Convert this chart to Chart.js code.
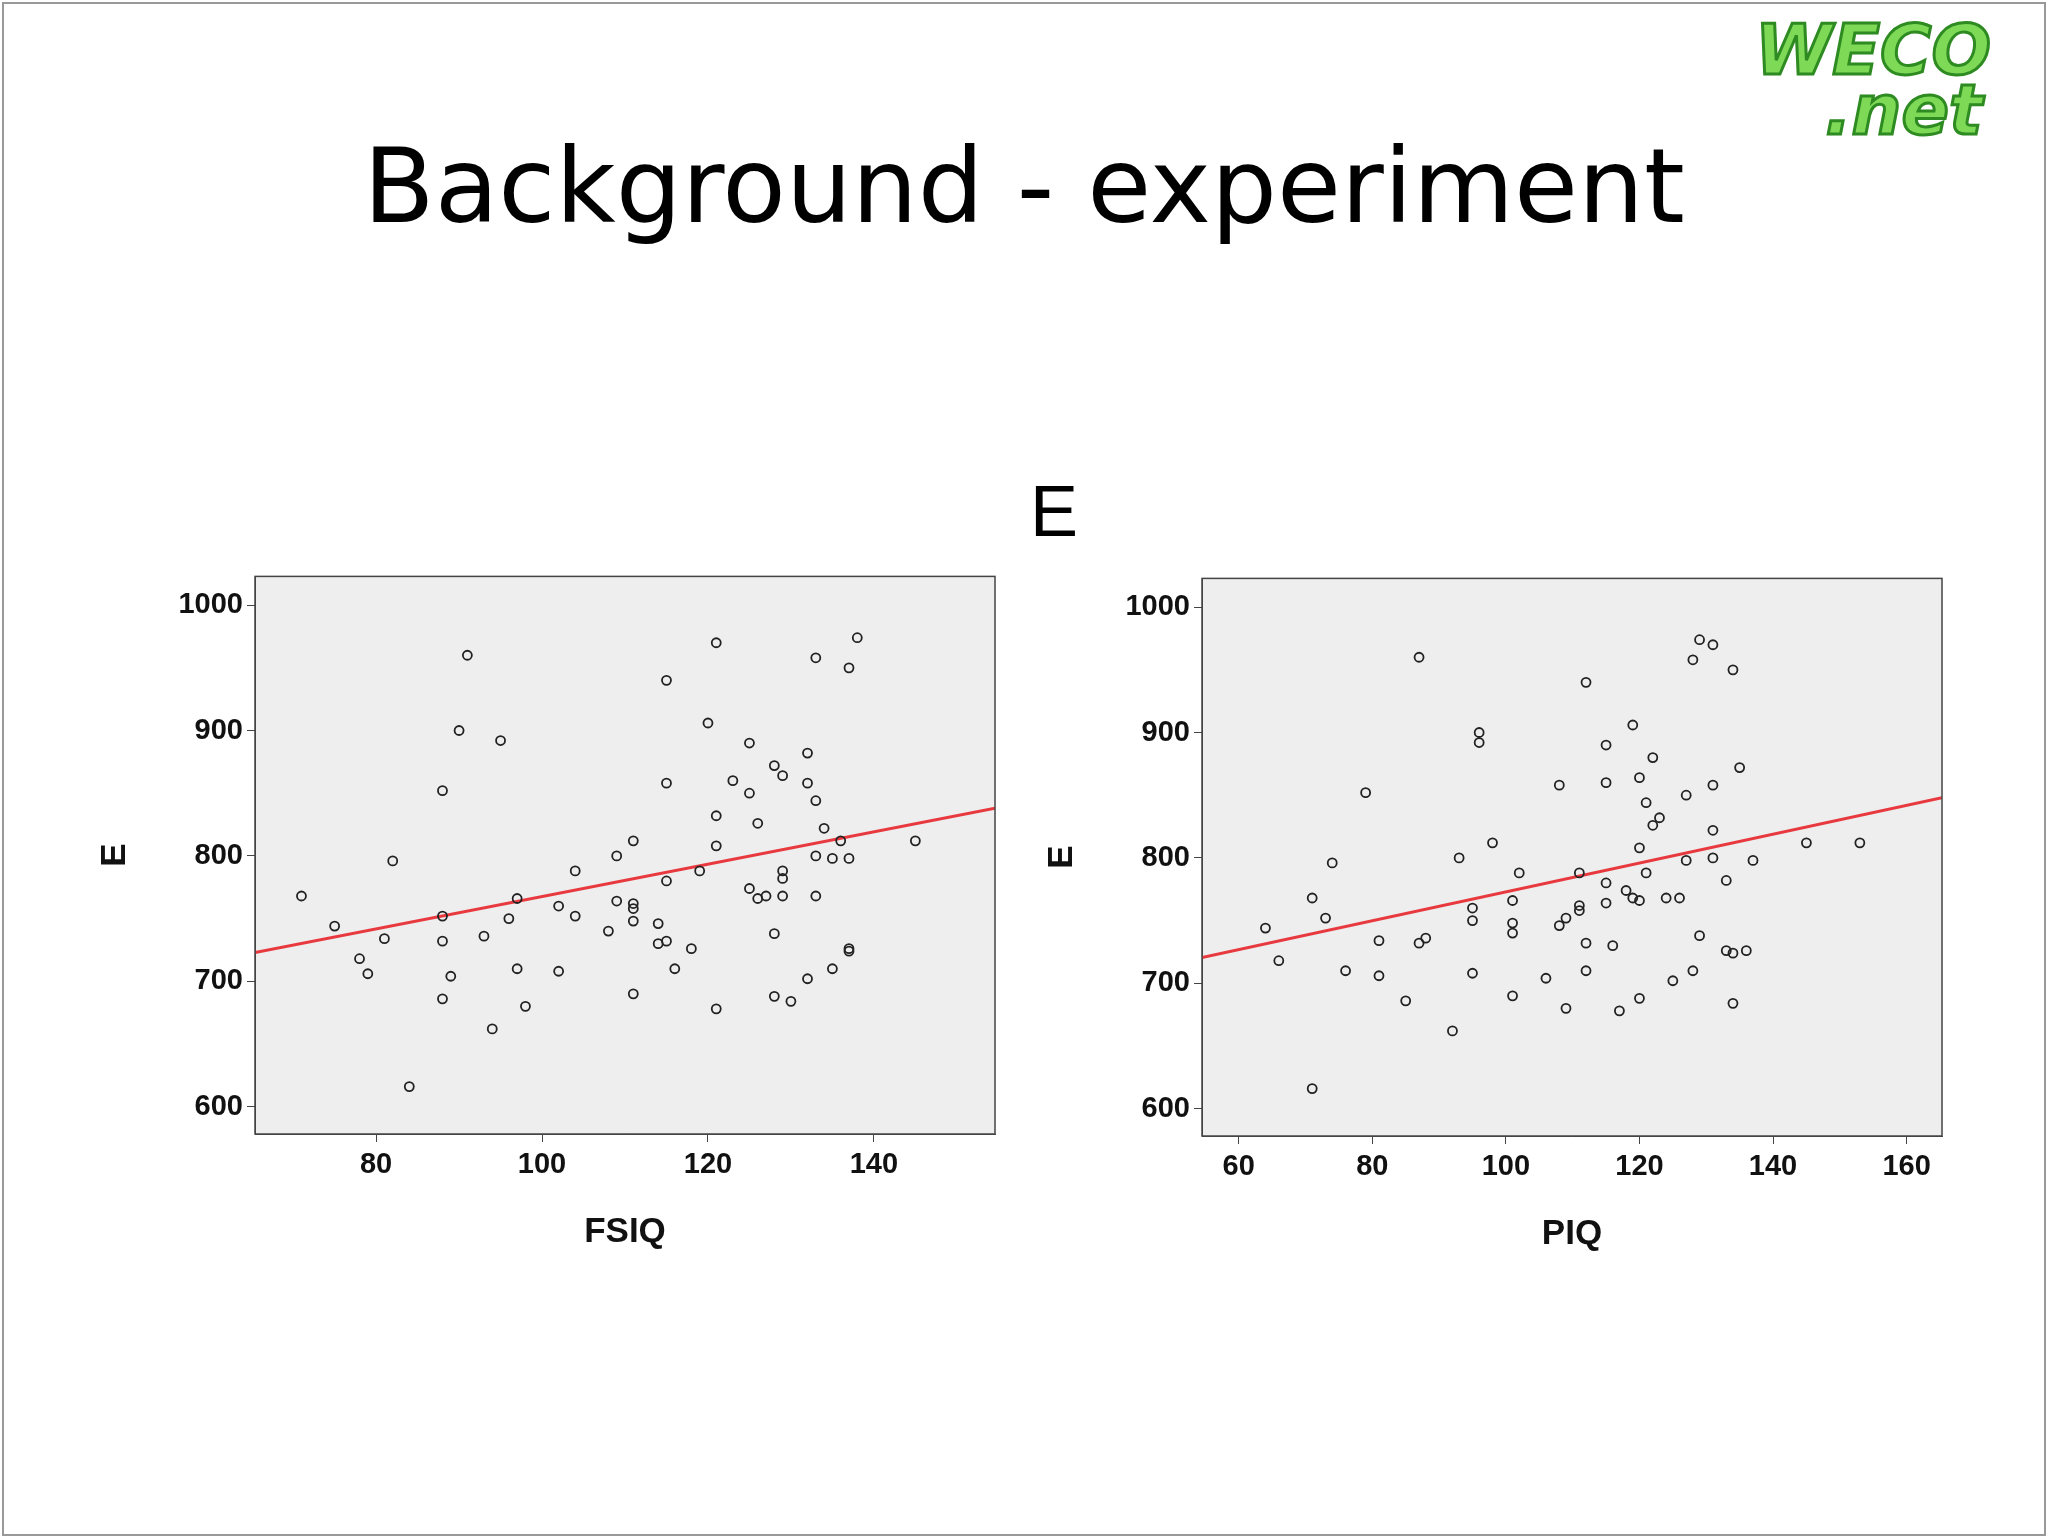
<!DOCTYPE html>
<html><head><meta charset="utf-8">
<script src="https://cdn.jsdelivr.net/npm/chart.js@4.4.0/dist/chart.umd.min.js"></script>
<style>
body{margin:0;width:2048px;height:1536px;background:#fff;position:relative;overflow:hidden;font-family:"Liberation Sans",Arial,sans-serif}
#frame{position:absolute;left:2px;top:2px;width:2040px;height:1530px;border:2px solid #999}
#title{position:absolute;left:0;width:2048px;top:125px;text-align:center;font-family:"DejaVu Sans";font-size:104px;color:#000}
#E{position:absolute;left:1030px;top:470px;font-size:72px;font-family:"Liberation Sans"}
#logo{position:absolute;left:1755px;top:20px;font-family:"DejaVu Sans";font-weight:bold;font-style:italic;color:#7ed957;-webkit-text-stroke:3px #2e8b22;font-size:70px;line-height:60px}
.c{position:absolute}
</style></head><body>
<div id="frame"></div>
<div id="logo">WECO<br><span style="margin-left:70px">.net</span></div>
<div id="title">Background - experiment</div>
<div id="E">E</div>
<div class="c" style="left:90px;top:555px;width:920px;height:710px"><canvas id="c1"></canvas></div>
<div class="c" style="left:1037px;top:557px;width:920px;height:710px"><canvas id="c2"></canvas></div>
<script>
const fsiqX=[71,75,78,79,81,82,84,88,88,88,88,89,90,91,93,94,95,96,97,97,98,102,102,104,104,108,109,109,111,111,111,111,111,114,114,115,115,115,115,116,118,119,120,121,121,121,121,123,125,125,125,126,126,127,128,128,128,129,129,129,129,130,132,132,132,133,133,133,133,134,135,135,136,137,137,137,137,138,145];
const fsiqE=[768,744,718,706,734,796,616,852,752,732,686,704,900,960,736,662,892,750,766,710,680,760,708,788,752,740,800,764,812,762,758,748,690,746,730,940,858,780,732,710,726,788,906,970,832,808,678,860,890,850,774,826,766,768,872,738,688,864,788,782,768,684,882,858,702,958,844,800,768,822,798,710,812,950,798,726,724,974,812];
const piqX=[64,66,71,71,73,74,76,79,81,81,85,87,87,88,92,93,95,95,95,96,96,98,101,101,101,101,102,106,108,108,109,109,111,111,111,112,112,112,115,115,115,115,116,117,118,119,119,120,120,120,120,121,121,122,122,123,124,125,126,127,127,128,128,129,129,131,131,131,131,133,133,134,134,134,135,136,137,145,153];
const piqE=[744,718,768,616,752,796,710,852,734,706,686,960,732,736,662,800,760,750,708,900,892,812,766,748,740,690,788,704,858,746,752,680,788,762,758,940,732,710,890,860,780,764,730,678,774,906,768,864,808,766,688,844,788,880,826,832,768,702,768,850,798,958,710,974,738,970,858,822,800,782,726,950,724,684,872,726,798,812,812];
const yTicks=[600,700,800,900,1000];
const fsiqTicks=[80,100,120,140];
const piqTicks=[60,80,100,120,140,160];
const fsiqFit=[[65.4,723],[154.6,838]];
const piqFit=[[54.5,720.5],[165.3,848]];

const bgPlugin={id:'bg',beforeDraw(c){const a=c.chartArea,x=c.ctx;x.save();x.fillStyle='#eeeeee';x.fillRect(a.left,a.top,a.right-a.left,a.bottom-a.top);x.restore();},
afterDraw(c){const a=c.chartArea,x=c.ctx;x.save();x.strokeStyle='#444';x.lineWidth=1.5;x.strokeRect(a.left,a.top,a.right-a.left,a.bottom-a.top);x.restore();}};
function make(id,xs,ys,fit,xt,xmin,xmax,label){
 const tf={family:'Liberation Sans',weight:'bold',size:29};
 new Chart(document.getElementById(id),{type:'scatter',
 data:{datasets:[
  {data:xs.map((v,i)=>({x:v,y:ys[i]})),pointRadius:4.5,pointBorderColor:'#222',pointBorderWidth:1.8,pointBackgroundColor:'rgba(0,0,0,0)',showLine:false},
  {data:fit.map(p=>({x:p[0],y:p[1]})),showLine:true,borderColor:'#e8393f',borderWidth:3,pointRadius:0}]},
 options:{responsive:true,maintainAspectRatio:false,animation:false,
  layout:{padding:{top:20,right:15,bottom:0,left:0}},
  plugins:{legend:{display:false},tooltip:{enabled:false}},
  scales:{
   x:{min:xmin,max:xmax,afterBuildTicks:a=>{a.ticks=xt.map(v=>({value:v}));},afterFit:a=>{a.height=131;},
      grid:{drawOnChartArea:false,drawTicks:true,tickLength:8,color:'#444'},border:{color:'#444'},
      ticks:{color:'#111',font:tf,padding:6,maxRotation:0,callback:v=>String(v)},
      title:{display:true,text:label,color:'#111',padding:{top:4,bottom:12},font:{family:'Liberation Sans',weight:'bold',size:35}}},
   y:{min:578.2,max:1022.9,afterBuildTicks:a=>{a.ticks=yTicks.map(v=>({value:v}));},afterFit:a=>{a.width=165;},
      grid:{drawOnChartArea:false,drawTicks:true,tickLength:8,color:'#444'},border:{color:'#444'},
      ticks:{color:'#111',font:tf,padding:4,callback:v=>String(v)},
      title:{display:true,text:'E',color:'#111',font:{family:'Liberation Sans',weight:'bold',size:35}}}}},
 plugins:[bgPlugin]});
}
make('c1',fsiqX,fsiqE,fsiqFit,fsiqTicks,65.4,154.6,'FSIQ');
make('c2',piqX,piqE,piqFit,piqTicks,54.5,165.3,'PIQ');
</script></body></html>
